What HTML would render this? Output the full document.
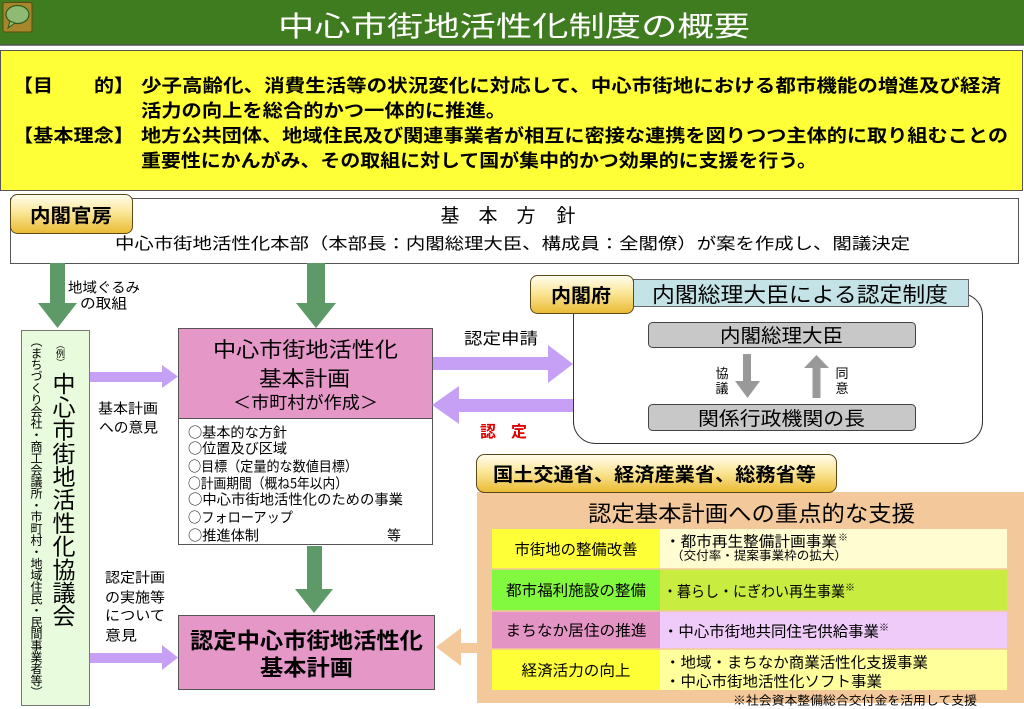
<!DOCTYPE html>
<html><head><meta charset="utf-8">
<style>
html,body{margin:0;padding:0;background:#fff;}
#wrap{position:relative;width:1024px;height:709px;overflow:hidden;background:#fff;}
svg{position:absolute;left:0;top:0;}
.v{position:absolute;writing-mode:vertical-rl;font-family:"Liberation Sans","Noto Sans CJK JP",sans-serif;color:#000;white-space:nowrap;}
</style></head>
<body><div id="wrap">
<svg width="1024" height="709" viewBox="0 0 1024 709" font-family="'Liberation Sans','Noto Sans CJK JP',sans-serif">
<defs>
<linearGradient id="gold" x1="0" y1="0" x2="0" y2="1">
<stop offset="0" stop-color="#fffdf0"/><stop offset="0.45" stop-color="#fbe79a"/><stop offset="1" stop-color="#eab932"/>
</linearGradient>
</defs>

<!-- header -->
<rect x="0" y="0" width="1024" height="45" fill="#3f7b1f"/>
<line x1="0" y1="45" x2="1024" y2="45" stroke="#555" stroke-width="1.5"/>
<rect x="3" y="2.5" width="29" height="29.5" rx="2" fill="#a8862c" stroke="#5e4c12" stroke-width="1"/>
<ellipse cx="17.5" cy="14.5" rx="11.5" ry="9" fill="#8fba74" stroke="#2f5a1a" stroke-width="1.2"/>
<path d="M10 21 L8 28 L15 23 Z" fill="#8fba74" stroke="#2f5a1a" stroke-width="1"/>
<text x="278" y="36" font-size="28" fill="#fff" textLength="472" lengthAdjust="spacingAndGlyphs">中心市街地活性化制度の概要</text>

<!-- yellow -->
<rect x="0.5" y="50.5" width="1022" height="140" fill="#ffff38" stroke="#555" stroke-width="1"/>
<g font-size="18" font-weight="bold" fill="#000">
<text x="13" y="91.8" textLength="40" lengthAdjust="spacingAndGlyphs">【目</text>
<text x="94" y="91.8" textLength="40" lengthAdjust="spacingAndGlyphs">的】</text>
<text x="141" y="91.8" textLength="860" lengthAdjust="spacingAndGlyphs">少子高齢化、消費生活等の状況変化に対応して、中心市街地における都市機能の増進及び経済</text>
<text x="141" y="116.8" textLength="365" lengthAdjust="spacingAndGlyphs">活力の向上を総合的かつ一体的に推進。</text>
<text x="13" y="141.8" textLength="121" lengthAdjust="spacingAndGlyphs">【基本理念】</text>
<text x="141" y="141.8" textLength="867" lengthAdjust="spacingAndGlyphs">地方公共団体、地域住民及び関連事業者が相互に密接な連携を図りつつ主体的に取り組むことの</text>
<text x="141" y="166.8" textLength="676" lengthAdjust="spacingAndGlyphs">重要性にかんがみ、その取組に対して国が集中的かつ効果的に支援を行う。</text>
</g>

<!-- 基本方針 -->
<rect x="10.5" y="198.5" width="1008" height="65" fill="#fff" stroke="#555" stroke-width="1"/>
<rect x="10.5" y="194.5" width="122" height="39" rx="7" fill="url(#gold)" stroke="#5a4a1a" stroke-width="1"/>
<text x="30" y="222.2" font-size="19" font-weight="bold" textLength="82" lengthAdjust="spacingAndGlyphs">内閣官房</text>
<g font-size="19" text-anchor="middle">
<text x="450" y="222.2">基</text><text x="488" y="222.2">本</text><text x="526" y="222.2">方</text><text x="566" y="222.2">針</text>
</g>
<text x="115" y="249.1" font-size="16" textLength="795" lengthAdjust="spacingAndGlyphs">中心市街地活性化本部（本部長：内閣総理大臣、構成員：全閣僚）が案を作成し、閣議決定</text>

<!-- green arrows -->
<g fill="#5e9a68">
<rect x="50" y="263" width="15" height="41"/>
<polygon points="38,303 77,303 57.5,328"/>
<rect x="307" y="263" width="18" height="41"/>
<polygon points="296,303 336,303 316,328"/>
<rect x="307" y="546" width="15" height="44"/>
<polygon points="295,589 333,589 314,613"/>
</g>
<text x="68" y="292.3" font-size="14" textLength="72" lengthAdjust="spacingAndGlyphs">地域ぐるみ</text>
<text x="80" y="308.3" font-size="14" textLength="47" lengthAdjust="spacingAndGlyphs">の取組</text>

<!-- 協議会 box -->
<rect x="21.5" y="330.5" width="68" height="375" fill="#e8fbdc" stroke="#777" stroke-width="1"/>

<!-- purple arrows left -->
<g fill="#c6a0f5">
<rect x="90" y="372" width="73" height="10"/>
<polygon points="162,365 162,388 178,376.5"/>
<rect x="90" y="653" width="73" height="10"/>
<polygon points="162,645 162,670 178,657.5"/>
</g>
<g font-size="14">
<text x="98" y="413.3" textLength="60" lengthAdjust="spacingAndGlyphs">基本計画</text>
<text x="99" y="432.3" textLength="59" lengthAdjust="spacingAndGlyphs">への意見</text>
<text x="105" y="582.3" textLength="60" lengthAdjust="spacingAndGlyphs">認定計画</text>
<text x="105" y="602.3" textLength="60" lengthAdjust="spacingAndGlyphs">の実施等</text>
<text x="105" y="620.3" textLength="60" lengthAdjust="spacingAndGlyphs">について</text>
<text x="105" y="640.3" textLength="32" lengthAdjust="spacingAndGlyphs">意見</text>
</g>

<!-- pink box 1 -->
<rect x="178.5" y="328.5" width="254" height="90" fill="#e598c8" stroke="#555" stroke-width="1"/>
<text x="213" y="357" font-size="21" textLength="185" lengthAdjust="spacingAndGlyphs">中心市街地活性化</text>
<text x="259" y="386" font-size="21" textLength="91" lengthAdjust="spacingAndGlyphs">基本計画</text>
<text x="233" y="408.5" font-size="17" textLength="145" lengthAdjust="spacingAndGlyphs">＜市町村が作成＞</text>
<rect x="178.5" y="418.5" width="254" height="126" fill="#fff" stroke="#555" stroke-width="1"/>
<g font-size="14" font-family="'Noto Sans CJK JP','Liberation Sans',sans-serif">
<text x="188" y="437.3" textLength="99" lengthAdjust="spacingAndGlyphs">○基本的な方針</text>
<text x="188" y="453.3" textLength="99" lengthAdjust="spacingAndGlyphs">○位置及び区域</text>
<text x="188" y="471.3" textLength="170" lengthAdjust="spacingAndGlyphs">○目標（定量的な数値目標）</text>
<text x="188" y="488.3" textLength="160" lengthAdjust="spacingAndGlyphs">○計画期間（概ね5年以内）</text>
<text x="188" y="504.3" textLength="215" lengthAdjust="spacingAndGlyphs">○中心市街地活性化のための事業</text>
<text x="188" y="522.3" textLength="105" lengthAdjust="spacingAndGlyphs">○フォローアップ</text>
<text x="188" y="540.3" textLength="71" lengthAdjust="spacingAndGlyphs">○推進体制</text>
<text x="387" y="540.3">等</text>
</g>

<!-- pink box 2 -->
<rect x="178.5" y="615.5" width="256" height="74" fill="#e598c8" stroke="#555" stroke-width="1"/>
<text x="190" y="648.4" font-size="22" font-weight="bold" textLength="233" lengthAdjust="spacingAndGlyphs">認定中心市街地活性化</text>
<text x="260" y="675.4" font-size="22" font-weight="bold" textLength="93" lengthAdjust="spacingAndGlyphs">基本計画</text>

<!-- 内閣府 area -->
<rect x="573.5" y="293.5" width="409" height="150" rx="22" fill="#fff" stroke="#333" stroke-width="1"/>
<rect x="633.5" y="279.5" width="335" height="27" fill="#c4e3e7" stroke="#666" stroke-width="1"/>
<text x="652" y="302" font-size="21" textLength="296" lengthAdjust="spacingAndGlyphs">内閣総理大臣による認定制度</text>
<rect x="530.5" y="275.5" width="103" height="38" rx="7" fill="url(#gold)" stroke="#5a4a1a" stroke-width="1"/>
<text x="551" y="302.2" font-size="19" font-weight="bold" textLength="60" lengthAdjust="spacingAndGlyphs">内閣府</text>
<rect x="648.5" y="322.5" width="267" height="25" rx="4" fill="#c8c8c8" stroke="#444" stroke-width="1"/>
<text x="720" y="342.2" font-size="19" textLength="123" lengthAdjust="spacingAndGlyphs">内閣総理大臣</text>
<rect x="648.5" y="404.5" width="267" height="26" rx="4" fill="#c8c8c8" stroke="#444" stroke-width="1"/>
<text x="698" y="425.2" font-size="19" textLength="167" lengthAdjust="spacingAndGlyphs">関係行政機関の長</text>
<g fill="#999">
<rect x="743" y="354" width="8" height="28"/>
<polygon points="735,381 760,381 747.5,398"/>
<rect x="812.5" y="367" width="8" height="31"/>
<polygon points="804,368 829,368 816.5,355"/>
</g>
<g font-size="13" text-anchor="middle">
<text x="722" y="377.9">協</text><text x="722" y="392.9">議</text>
<text x="842" y="377.9">同</text><text x="842" y="392.9">意</text>
</g>

<!-- purple arrows right -->
<g fill="#c6a0f5">
<rect x="433" y="357" width="116" height="13"/>
<polygon points="548,345 548,383 573,364"/>
<rect x="458" y="399" width="115" height="13"/>
<polygon points="459,386 459,424 432,405"/>
</g>
<text x="464" y="344.1" font-size="16" textLength="74" lengthAdjust="spacingAndGlyphs">認定申請</text>
<text x="480" y="437.1" font-size="16" font-weight="bold" fill="#e00000">認</text>
<text x="511" y="437.1" font-size="16" font-weight="bold" fill="#e00000">定</text>

<!-- tan box -->
<rect x="477" y="492" width="547" height="211" fill="#f3c99b"/>
<g fill="#f3c99b">
<rect x="459" y="643" width="19" height="10"/>
<polygon points="461,628 461,666 436,647"/>
</g>
<rect x="476.5" y="454.5" width="360" height="38" rx="8" fill="url(#gold)" stroke="#5a4a1a" stroke-width="1"/>
<text x="493" y="481.2" font-size="19" font-weight="bold" textLength="323" lengthAdjust="spacingAndGlyphs">国土交通省、経済産業省、総務省等</text>
<text x="588" y="521.4" font-size="22" textLength="327" lengthAdjust="spacingAndGlyphs">認定基本計画への重点的な支援</text>

<!-- table -->
<rect x="492" y="529" width="168" height="40" fill="#ffff38"/>
<rect x="660" y="529" width="347" height="40" fill="#fffcd2"/>
<rect x="492" y="569" width="168" height="42" fill="#82f93e"/>
<rect x="660" y="569" width="347" height="42" fill="#c8ec40"/>
<rect x="492" y="611" width="168" height="38" fill="#e494c4"/>
<rect x="660" y="611" width="347" height="38" fill="#eecbf8"/>
<rect x="492" y="649" width="168" height="41" fill="#ffff38"/>
<rect x="660" y="649" width="347" height="41" fill="#ffff9c"/>
<g stroke="#f3c99b" stroke-width="1.5">
<line x1="492" y1="569" x2="1007" y2="569"/>
<line x1="492" y1="611" x2="1007" y2="611"/>
<line x1="492" y1="649" x2="1007" y2="649"/>
</g>
<g font-size="15" text-anchor="middle">
<text x="576" y="554.7" textLength="123" lengthAdjust="spacingAndGlyphs">市街地の整備改善</text>
<text x="576" y="595.7" textLength="140" lengthAdjust="spacingAndGlyphs">都市福利施設の整備</text>
<text x="576" y="635.7" textLength="141" lengthAdjust="spacingAndGlyphs">まちなか居住の推進</text>
<text x="576" y="675.7" textLength="109" lengthAdjust="spacingAndGlyphs">経済活力の向上</text>
</g>
<g font-size="15">
<text x="665" y="546.7" textLength="172" lengthAdjust="spacingAndGlyphs">・都市再生整備計画事業</text>
<text x="838" y="541" font-size="10">※</text>
<text x="671" y="559.6" font-size="12" textLength="176" lengthAdjust="spacingAndGlyphs">（交付率・提案事業枠の拡大）</text>
<text x="663" y="596.7" textLength="182" lengthAdjust="spacingAndGlyphs">・暮らし・にぎわい再生事業</text>
<text x="845" y="591" font-size="10">※</text>
<text x="663" y="636.7" textLength="216" lengthAdjust="spacingAndGlyphs">・中心市街地共同住宅供給事業</text>
<text x="879" y="631" font-size="10">※</text>
<text x="665" y="667.7" textLength="263" lengthAdjust="spacingAndGlyphs">・地域・まちなか商業活性化支援事業</text>
<text x="665" y="686.7" textLength="217" lengthAdjust="spacingAndGlyphs">・中心市街地活性化ソフト事業</text>
</g>
<text x="733" y="704.6" font-size="12" textLength="244" lengthAdjust="spacingAndGlyphs">※社会資本整備総合交付金を活用して支援</text>
</svg>

<div class="v" style="left:30px;top:335px;font-size:12px;line-height:12px;letter-spacing:-0.3px;">（まちづくり会社・商工会議所・市町村・地域住民・民間事業者等）</div>
<div class="v" style="left:55px;top:340px;font-size:9px;line-height:10px;">（例）</div>
<div class="v" style="left:50px;top:372px;font-size:23px;line-height:24px;letter-spacing:0.2px;">中心市街地活性化協議会</div>
</div></body></html>
